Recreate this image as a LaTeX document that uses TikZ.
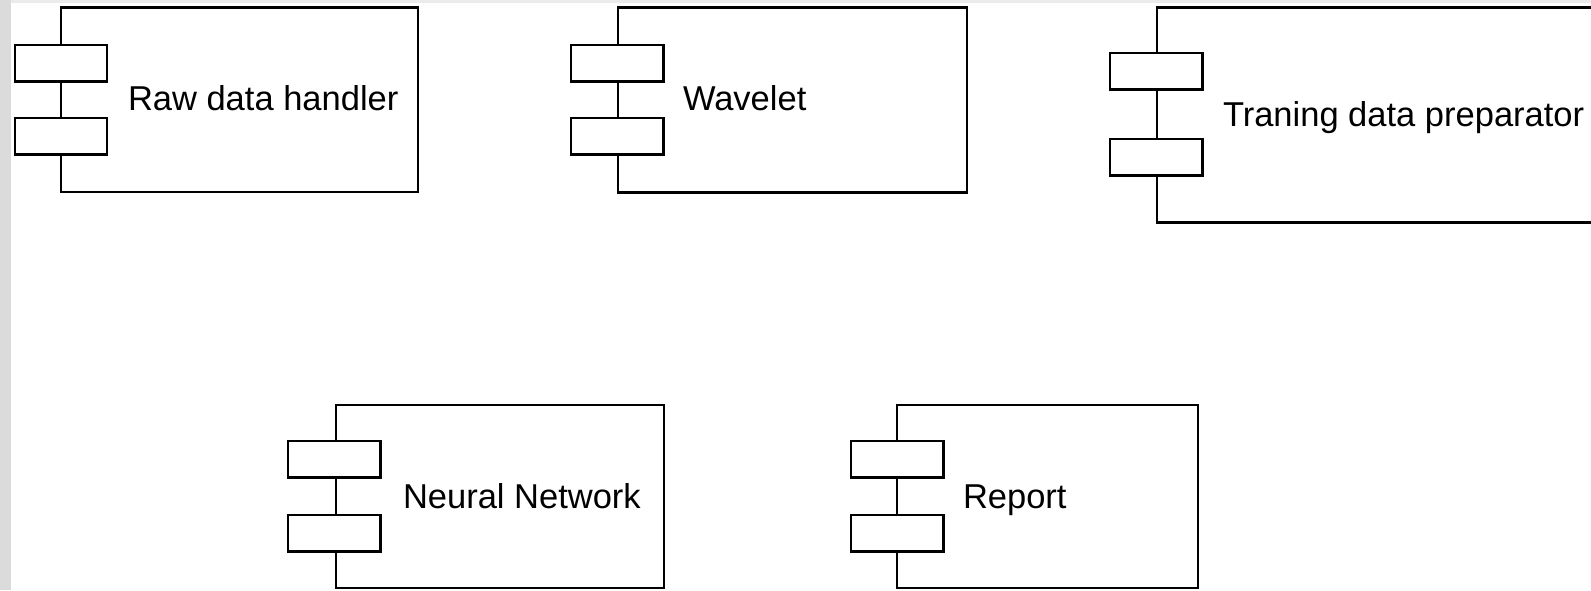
\documentclass[tikz,border=0pt]{standalone}
\usepackage{fontspec}
\setmainfont{Liberation Sans}
\begin{document}
\begin{tikzpicture}[x=1pt,y=-1pt,
  comp/.style={draw=black, line width=2.3pt, fill=white, rectangle, inner sep=0pt, outer sep=0pt, anchor=north west},
  port/.style={draw=black, line width=2.3pt, fill=white, rectangle, inner sep=0pt, outer sep=0pt, anchor=north west, minimum width=92.5pt, minimum height=36.5pt},
  lbl/.style={anchor=base west, inner sep=0pt, outer sep=0pt, font=\fontsize{34.5}{41}\selectfont}]
\useasboundingbox (0,0) rectangle (1591,590);
\clip (0,0) rectangle (1591,590);
\fill[white] (0,0) rectangle (1591,590);
\fill[gray!16] (0,0) rectangle (1591,3);
\fill[gray!28] (0,0) rectangle (11,590);

% component boxes
\node[comp, minimum width=357pt, minimum height=184.5pt] (rawbox) at (61,7.5) {};
\node[comp, minimum width=349pt, minimum height=185pt] (wavbox) at (618,7.5) {};
\node[comp, minimum width=500pt, minimum height=215pt] (trbox) at (1157,7.5) {};
\node[comp, minimum width=328pt, minimum height=183pt] (nnbox) at (336,405) {};
\node[comp, minimum width=301pt, minimum height=183pt] (repbox) at (897,405) {};

% ports
\node[port] (rawp1) at (14.7,45) {};
\node[port] (rawp2) at (14.7,118) {};
\node[port] (wavp1) at (571,45) {};
\node[port] (wavp2) at (571,118) {};
\node[port] (trp1) at (1110,53) {};
\node[port] (trp2) at (1110,139) {};
\node[port] (nnp1) at (288,441) {};
\node[port] (nnp2) at (288,515) {};
\node[port] (repp1) at (851,441) {};
\node[port] (repp2) at (851,515) {};

% labels
\node[lbl] (rawl) at (128,110) {Raw data handler};
\node[lbl] (wavl) at (683,110) {Wavelet};
\node[lbl] (trl) at (1223,126) {Traning data preparator};
\node[lbl] (nnl) at (403,508) {Neural Network};
\node[lbl] (repl) at (963,508) {Report};
\end{tikzpicture}
\end{document}
